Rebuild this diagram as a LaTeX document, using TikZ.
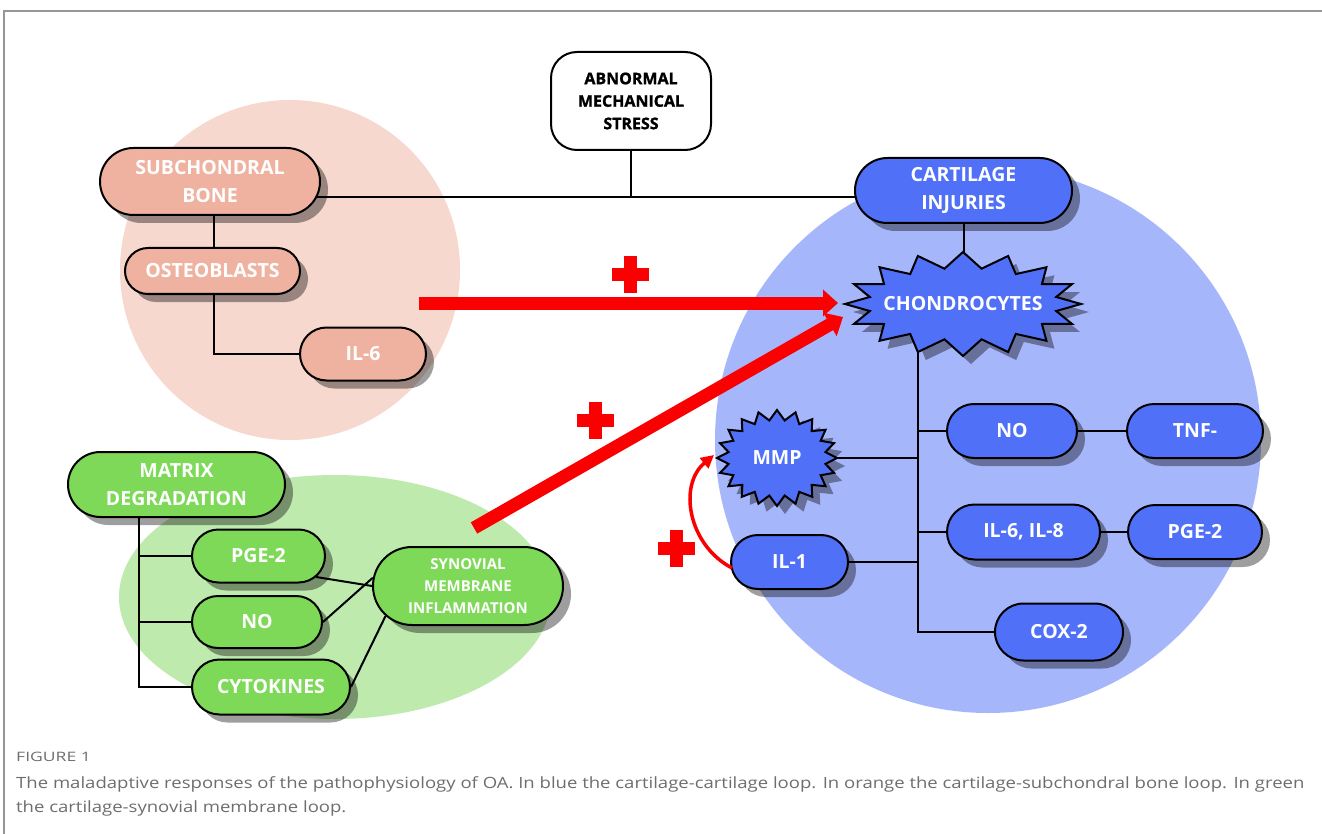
\documentclass[tikz,border=0pt]{standalone}
\usepackage{fontspec}
\setmainfont{Open Sans}
\newfontfamily\heavyfont[FakeBold=1.2]{Open Sans}
\usetikzlibrary{shapes.misc,shadows,arrows.meta}
\definecolor{orbg}{RGB}{246,216,206}
\definecolor{blbg}{RGB}{166,182,250}
\definecolor{grbg}{RGB}{190,234,174}
\definecolor{orn}{RGB}{240,178,160}
\definecolor{bln}{RGB}{80,112,248}
\definecolor{grn}{RGB}{126,217,88}
\definecolor{capgray}{RGB}{110,110,110}
\definecolor{framegray}{RGB}{150,150,150}
\definecolor{redarr}{RGB}{250,0,0}
\pgfdeclarelayer{bg}
\pgfdeclarelayer{ln}
\pgfsetlayers{bg,ln,main}
\newcommand\burst[9]{%
 \path[#9] ({#1+#5},{#2}) \foreach \k in {1,...,#3} { -- ({#1+ifthenelse(mod(\k,2)==0,#5,#7)*cos(\k*#4)},{#2+ifthenelse(mod(\k,2)==0,#6,#8)*sin(\k*#4)}) } -- cycle;}
\newcommand\plussign[2]{%
 \fill[redarr] ({#1-18.5},{#2-6.5}) rectangle ({#1+18.5},{#2+6.5});
 \fill[redarr] ({#1-6.5},{#2-18.5}) rectangle ({#1+6.5},{#2+18.5});}
\tikzset{
 pill/.style={rounded rectangle, draw=black, line width=2pt, text=white,
   font=\bfseries\fontsize{19.5}{28}\selectfont, align=center, inner sep=0pt,
   general shadow={fill=black, fill opacity=0.38, shadow xshift=8pt, shadow yshift=-8pt}},
 startext/.style={text=white, font=\bfseries\fontsize{19.5}{28}\selectfont, inner sep=0pt},
 conn/.style={draw=black, line width=2pt},
 redarrow/.style={draw=redarr, line width=13pt, -{Triangle[length=15pt 0, width=26pt 0]}},
 captext/.style={text=capgray, font=\fontsize{15.5}{23}\selectfont, inner sep=0pt},
 capfig/.style={text=capgray, font=\fontsize{13}{16}\selectfont, inner sep=0pt},
}
\begin{document}
\begin{tikzpicture}[x=1pt,y=-1pt]
\useasboundingbox (0,0) rectangle (1322,834);

\begin{pgfonlayer}{bg}
\fill[white] (0,0) rectangle (1322,834);
\draw[framegray, line width=1.3pt] (4,834) -- (4,11) -- (1322,11);
\fill[orbg] (290,270) circle (170);
\fill[blbg] (988,440) circle (273);
\fill[grbg] (335,597) ellipse (216 and 122);
\end{pgfonlayer}

% top
\node[draw=black, line width=2pt, fill=white, rounded corners=26pt, minimum width=160pt, minimum height=98pt,
  inner sep=0pt, align=center, font=\heavyfont\bfseries\fontsize{16}{22.5}\selectfont] (abn) at (631,101) {ABNORMAL\\MECHANICAL\\STRESS};
\coordinate (jt) at (631,197);

% orange
\node[pill, fill=orn, minimum width=220pt, minimum height=67pt] (sub) at (210,181.5) {SUBCHONDRAL\\BONE};
\node[pill, fill=orn, minimum width=175pt, minimum height=46pt] (ost) at (212.5,271) {OSTEOBLASTS};
\node[pill, fill=orn, minimum width=126pt, minimum height=53pt] (il6o) at (363,354) {IL-6};
\coordinate (ox) at (214,0);

% blue
\node[pill, fill=bln, minimum width=217pt, minimum height=65pt] (cart) at (963.5,190.5) {CARTILAGE\\INJURIES};
\burst{971}{312}{31}{11.25}{118}{52}{95}{36}{fill=black, fill opacity=0.38}
\burst{963}{304}{31}{11.25}{118}{52}{95}{36}{fill=bln, draw=black, line width=2pt}
\node[startext] (chond) at (963,304) {CHONDROCYTES};
\burst{785}{466}{39}{9}{60}{48}{49}{38}{fill=black, fill opacity=0.38}
\burst{777}{458}{39}{9}{60}{48}{49}{38}{fill=bln, draw=black, line width=2pt}
\node[startext] (mmp) at (777,458) {MMP};
\node[pill, fill=bln, minimum width=130pt, minimum height=54pt] (nob) at (1012,431) {NO};
\node[pill, fill=bln, minimum width=136pt, minimum height=54pt] (tnf) at (1195,431) {TNF-};
\node[pill, fill=bln, minimum width=153pt, minimum height=55pt] (il68) at (1023.5,532) {IL-6, IL-8};
\node[pill, fill=bln, minimum width=134pt, minimum height=54pt] (pgeb) at (1195,532) {PGE-2};
\node[pill, fill=bln, minimum width=117pt, minimum height=54pt] (il1) at (789.5,562) {IL-1};
\node[pill, fill=bln, minimum width=128pt, minimum height=57pt] (cox) at (1059,632) {COX-2};
\coordinate (tx) at (918,0);

% green
\node[pill, fill=grn, minimum width=217pt, minimum height=65pt] (mat) at (176.5,484.5) {MATRIX\\DEGRADATION};
\node[pill, fill=grn, minimum width=133pt, minimum height=53pt] (pgeg) at (258.5,556) {PGE-2};
\node[pill, fill=grn, minimum width=130pt, minimum height=52pt] (nog) at (257,622) {NO};
\node[pill, fill=grn, minimum width=158pt, minimum height=55pt] (cyt) at (271,687) {CYTOKINES};
\node[pill, fill=grn, minimum width=190pt, minimum height=78pt, font=\bfseries\fontsize{15}{22}\selectfont] (syn) at (468,586) {SYNOVIAL\\MEMBRANE\\INFLAMMATION};
\coordinate (gx) at (139,0);

\begin{pgfonlayer}{ln}
\draw[conn] (sub.center |- jt) -- (cart.center |- jt);
\draw[conn] (abn) -- (jt);
\draw[conn] (sub.center -| ox) -- (ost.center -| ox) -- (ox |- il6o.center) -- (il6o.center);
\draw[conn] (cart.center) -- (cart.center |- chond.center);
\draw[conn] (chond.center -| tx) -- (tx |- cox.center) -- (cox.center);
\draw[conn] (tx |- nob.center) -- (nob.center);
\draw[conn] (nob.center) -- (tnf.center);
\draw[conn] (tx |- mmp.center) -- (mmp.center);
\draw[conn] (tx |- il68.center) -- (il68.center);
\draw[conn] (il68.center) -- (pgeb.center);
\draw[conn] (tx |- il1.center) -- (il1.center);
\draw[conn] (mat.center -| gx) -- (gx |- cyt.center) -- (cyt.center);
\draw[conn] (gx |- pgeg.center) -- (pgeg.center);
\draw[conn] (gx |- nog.center) -- (nog.center);
\end{pgfonlayer}
\draw[conn] (pgeg.-20) -- (syn.west);
\draw[conn] (nog.east) -- (syn.175);
\draw[conn] (cyt.east) -- (syn.200);

% red arrows
\coordinate (r1s) at (419,303);
\coordinate (r1e) at (838,303);
\coordinate (r2s) at (474,528);
\coordinate (r2e) at (843,317);
\draw[redarrow] (r1s) -- (r1e);
\draw[redarrow] (r2s) -- (r2e);
\coordinate (c1s) at (732,568);
\coordinate (c1e) at (714,455);
\draw[redarr, line width=3.5pt, -{Triangle[length=13pt 0, width=13pt 0]}] (c1s) .. controls (688,545) and (678,485) .. (c1e);
\plussign{630}{275}
\plussign{595}{420}
\plussign{676}{548}

% caption
\node[capfig, anchor=base west] (figl) at (16,761) {\scalebox{1.35}[1]{FIGURE 1}};
\node[captext, anchor=base west] (cap1) at (16,788) {\scalebox{1.195}[1]{The maladaptive responses of the pathophysiology of OA. In blue the cartilage-cartilage loop. In orange the cartilage-subchondral bone loop. In green}};
\node[captext, anchor=base west] (cap2) at (16,812) {\scalebox{1.195}[1]{the cartilage-synovial membrane loop.}};
\end{tikzpicture}
\end{document}
